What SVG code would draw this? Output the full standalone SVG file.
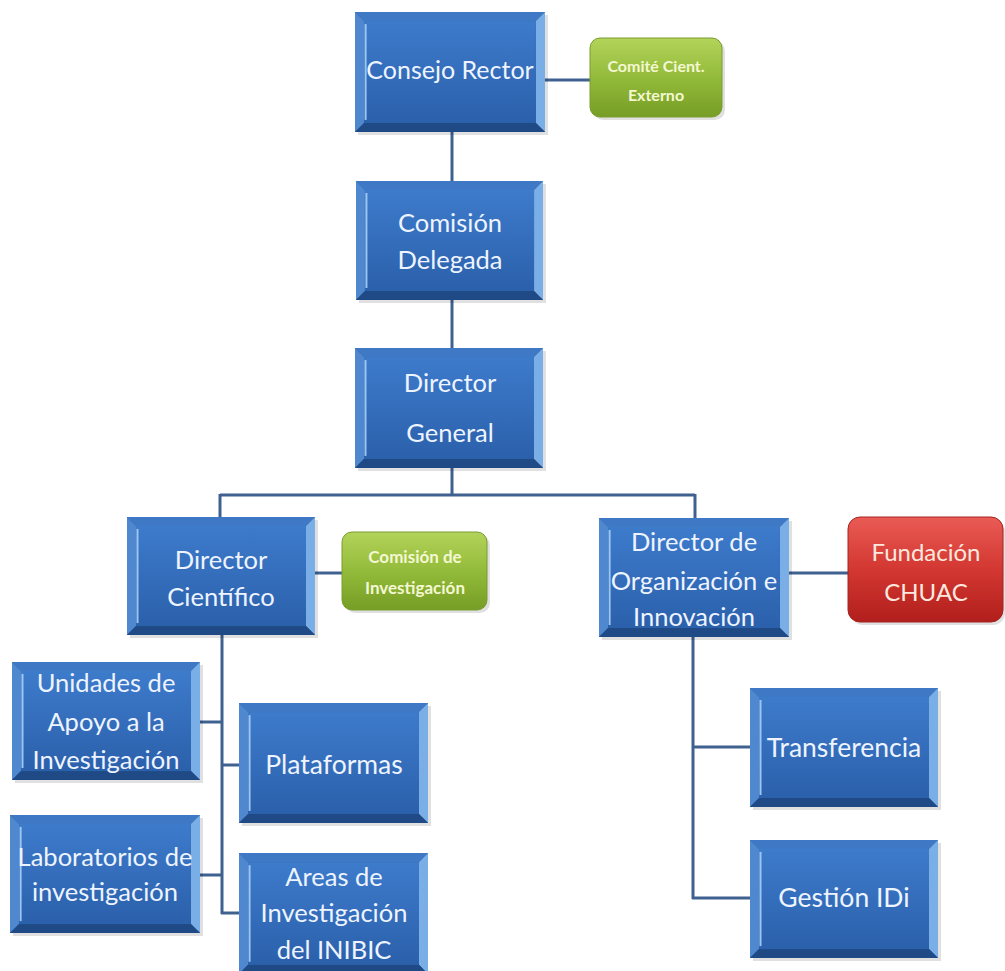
<svg xmlns="http://www.w3.org/2000/svg" xmlns:xlink="http://www.w3.org/1999/xlink" width="1005" height="971" viewBox="0 0 1005 971">
<defs>
<linearGradient id="gBlue" x1="0" y1="0" x2="0" y2="1">
<stop offset="0" stop-color="#3d7bcb"/>
<stop offset="1" stop-color="#2b60ab"/>
</linearGradient>
<linearGradient id="gGreen" x1="0" y1="0" x2="0" y2="1">
<stop offset="0" stop-color="#b3d35a"/>
<stop offset="0.5" stop-color="#93bb3a"/>
<stop offset="1" stop-color="#769d25"/>
</linearGradient>
<linearGradient id="gRed" x1="0" y1="0" x2="0" y2="1">
<stop offset="0" stop-color="#ea5b55"/>
<stop offset="0.5" stop-color="#d33731"/>
<stop offset="1" stop-color="#b11f1c"/>
</linearGradient>
<symbol id="bevel" viewBox="0 0 188 119" preserveAspectRatio="none">
<rect x="0" y="0" width="188" height="119" fill="#24548f"/>
<polygon points="0,0 188,0 179,9 9,9" fill="#3f78c4"/>
<polygon points="0,0 9,9 9,110 0,119" fill="#4f88cf"/>
<polygon points="188,0 188,119 179,110 179,9" fill="#79aee6"/>
<polygon points="0,119 9,110 179,110 188,119" fill="#1f4a85"/>
<rect x="9" y="9" width="170" height="101" fill="url(#gBlue)"/>
<line x1="10.5" y1="12" x2="10.5" y2="107" stroke="#9cc6f2" stroke-width="2"/>
</symbol>
</defs>
<style>
.conn line{stroke:#3e6190;stroke-width:3;fill:none}
.shadow{fill:#000;opacity:0.12}
.t{font-family:Lato,"Open Sans","Liberation Sans",sans-serif;font-size:25.5px;fill:#eef4ff;text-anchor:middle}
.t.big{font-size:25px}
.t.one{font-size:26.5px}
.tg{font-family:Lato,"Open Sans","Liberation Sans",sans-serif;font-size:16px;font-weight:bold;fill:#f4f8d2;text-anchor:middle}
.tg.ci{font-size:17px}
.tr{font-family:Lato,"Open Sans","Liberation Sans",sans-serif;font-size:24px;fill:#fde8df;text-anchor:middle}
</style>
<rect width="1005" height="971" fill="#ffffff"/>

<g id="connectors" class="conn">
<line x1="452" y1="132" x2="452" y2="181"/>
<line x1="452" y1="300" x2="452" y2="348"/>
<line x1="452" y1="468" x2="452" y2="495"/>
<line x1="220" y1="495" x2="695" y2="495"/>
<line x1="220" y1="494" x2="220" y2="517"/>
<line x1="695" y1="494" x2="695" y2="518"/>
<line x1="545" y1="80" x2="590" y2="80"/>
<line x1="315" y1="573" x2="342" y2="573"/>
<line x1="789" y1="573" x2="848" y2="573"/>
<line x1="222" y1="635" x2="222" y2="914"/>
<line x1="200" y1="722" x2="222" y2="722"/>
<line x1="221" y1="765" x2="239" y2="765"/>
<line x1="200" y1="875" x2="222" y2="875"/>
<line x1="221" y1="913" x2="239" y2="913"/>
<line x1="693" y1="637" x2="693" y2="899"/>
<line x1="692" y1="747" x2="750" y2="747"/>
<line x1="692" y1="898" x2="750" y2="898"/>
</g>

<g id="consejo-rector">
<rect class="shadow" x="358" y="15" width="190" height="120"/>
<use xlink:href="#bevel" x="355" y="12" width="190" height="120"/>
<text class="t big" x="450" y="79">Consejo Rector</text>
</g>

<g id="comite-cient-externo">
<rect class="shadow" x="593" y="41" width="132" height="79" rx="10"/>
<rect x="590" y="38" width="132" height="79" rx="10" fill="url(#gGreen)" stroke="#7a9c30" stroke-width="1"/>
<text class="tg" x="656" y="72">Comité Cient.</text>
<text class="tg" x="656" y="101">Externo</text>
</g>

<g id="comision-delegada">
<rect class="shadow" x="359" y="184" width="187" height="119"/>
<use xlink:href="#bevel" x="356" y="181" width="187" height="119"/>
<text class="t" x="450" y="232">Comisión</text>
<text class="t" x="450" y="269">Delegada</text>
</g>

<g id="director-general">
<rect class="shadow" x="358" y="351" width="188" height="120"/>
<use xlink:href="#bevel" x="355" y="348" width="188" height="120"/>
<text class="t" x="450" y="392">Director</text>
<text class="t" x="450" y="442">General</text>
</g>

<g id="director-cientifico">
<rect class="shadow" x="130" y="520" width="188" height="118"/>
<use xlink:href="#bevel" x="127" y="517" width="188" height="118"/>
<text class="t" x="221" y="569">Director</text>
<text class="t" x="221" y="606">Científico</text>
</g>

<g id="comision-investigacion">
<rect class="shadow" x="345" y="535" width="145" height="78" rx="10"/>
<rect x="342" y="532" width="145" height="78" rx="10" fill="url(#gGreen)" stroke="#7a9c30" stroke-width="1"/>
<text class="tg ci" x="415" y="563">Comisión de</text>
<text class="tg ci" x="415" y="594">Investigación</text>
</g>

<g id="director-organizacion">
<rect class="shadow" x="602" y="521" width="190" height="119"/>
<use xlink:href="#bevel" x="599" y="518" width="190" height="119"/>
<text class="t" x="694" y="551">Director de</text>
<text class="t" x="694" y="590">Organización e</text>
<text class="t" x="694" y="626">Innovación</text>
</g>

<g id="fundacion-chuac">
<rect class="shadow" x="851" y="520" width="154" height="105" rx="12"/>
<rect x="848" y="517" width="155" height="105" rx="12" fill="url(#gRed)" stroke="#a32420" stroke-width="1"/>
<text class="tr" x="926" y="561">Fundación</text>
<text class="tr" x="926" y="601">CHUAC</text>
</g>

<g id="unidades-apoyo">
<rect class="shadow" x="15" y="665" width="188" height="118"/>
<use xlink:href="#bevel" x="12" y="662" width="188" height="118"/>
<text class="t" x="106" y="692">Unidades de</text>
<text class="t" x="106" y="731">Apoyo a la</text>
<text class="t" x="106" y="769">Investigación</text>
</g>

<g id="plataformas">
<rect class="shadow" x="242" y="706" width="189" height="120"/>
<use xlink:href="#bevel" x="239" y="703" width="189" height="120"/>
<text class="t one" x="334" y="774">Plataformas</text>
</g>

<g id="laboratorios">
<rect class="shadow" x="13" y="818" width="190" height="118"/>
<use xlink:href="#bevel" x="10" y="815" width="190" height="118"/>
<text class="t" x="105" y="866">Laboratorios de</text>
<text class="t" x="105" y="901">investigación</text>
</g>

<g id="areas-investigacion">
<use xlink:href="#bevel" x="239" y="853" width="189" height="121"/>
<text class="t" x="334" y="886">Areas de</text>
<text class="t" x="334" y="922">Investigación</text>
<text class="t" x="334" y="959">del INIBIC</text>
</g>

<g id="transferencia">
<rect class="shadow" x="753" y="691" width="188" height="119"/>
<use xlink:href="#bevel" x="750" y="688" width="188" height="119"/>
<text class="t one" x="844" y="757">Transferencia</text>
</g>

<g id="gestion-idi">
<rect class="shadow" x="753" y="843" width="188" height="118"/>
<use xlink:href="#bevel" x="750" y="840" width="188" height="118"/>
<text class="t one" x="844" y="907">Gestión IDi</text>
</g>
</svg>
